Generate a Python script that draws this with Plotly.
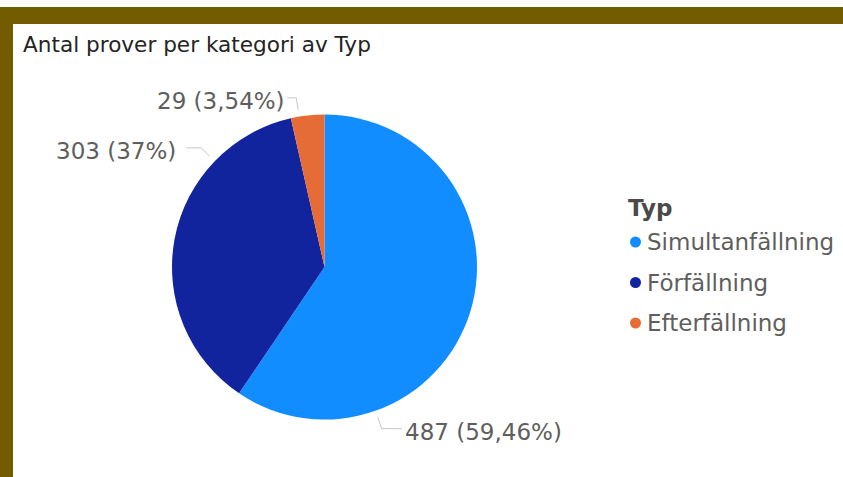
import math
import plotly.graph_objects as go

# ---- data ----
categories = ["Simultanfällning", "Förfällning", "Efterfällning"]
values = [487, 303, 29]
label_texts = ["487 (59,46%)", "303 (37%)", "29 (3,54%)"]
colors = ["#118DFF", "#12239E", "#E66C37"]
title_text = "Antal prover per kategori av Typ"
legend_title = "Typ"

# ---- layout constants (pixels) ----
W, H = 843, 477
CX, CY, R = 324.5, 267.0, 152.5
label_angles = [160.5, 314.0, 350.5]   # degrees clockwise from 12 o'clock
leader_h = [20, 15, 9]                 # horizontal leader lengths
label_gap = [1, 8, 0]                  # gap between leader and text
FONT = "DejaVu Sans"
OLIVE = "#735c00"
LINE = "#c8c6c4"
TXT = "#605E5C"


def px(x):
    return x / W


def py(y):
    return 1 - y / H


fig = go.Figure(go.Pie(
    labels=categories,
    values=values,
    marker=dict(colors=colors, line=dict(width=0)),
    sort=False,
    direction="clockwise",
    rotation=0,
    textinfo="none",
    showlegend=False,
    domain=dict(x=[px(CX - R), px(CX + R)], y=[py(CY + R), py(CY - R)]),
))

shapes = [
    dict(type="rect", xref="paper", yref="paper", x0=0, x1=1, y0=py(24), y1=py(7),
         fillcolor=OLIVE, line=dict(width=0), layer="below"),
    dict(type="rect", xref="paper", yref="paper", x0=0, x1=px(13), y0=0, y1=py(7),
         fillcolor=OLIVE, line=dict(width=0), layer="below"),
]
annotations = [
    dict(text=title_text, x=px(21), y=py(44), xref="paper", yref="paper",
         xanchor="left", yanchor="middle", showarrow=False,
         font=dict(family=FONT, size=21.6, color="#252423")),
]

# leader lines + data labels
for ang, txt, hl, gap in zip(label_angles, label_texts, leader_h, label_gap):
    a = math.radians(ang)
    s, c = math.sin(a), -math.cos(a)
    x0, y0 = CX + (R + 7) * s, CY + (R + 7) * c
    x1, y1 = CX + (R + 19) * s, CY + (R + 19) * c
    right = s > 0
    x2 = x1 + (hl if right else -hl)
    path = f"M {px(x0)} {py(y0)} L {px(x1)} {py(y1)} L {px(x2)} {py(y1)}"
    shapes.append(dict(type="path", xref="paper", yref="paper", path=path,
                       line=dict(color=LINE, width=1)))
    annotations.append(dict(
        text=txt, x=px(x2 + (gap if right else -gap)), y=py(y1 + 3),
        xref="paper", yref="paper", showarrow=False,
        xanchor="left" if right else "right", yanchor="middle",
        font=dict(family=FONT, size=23, color=TXT)))

# manual legend
annotations.append(dict(text=f"<b>{legend_title}</b>", x=px(626), y=py(208),
                        xref="paper", yref="paper", showarrow=False,
                        xanchor="left", yanchor="middle",
                        font=dict(family=FONT, size=23, color="#4a4a4a")))
for i, (cat, col) in enumerate(zip(categories, colors)):
    yy = 242 + i * 40.5
    shapes.append(dict(type="circle", xref="paper", yref="paper",
                       x0=px(630), x1=px(641), y0=py(yy + 5.5), y1=py(yy - 5.5),
                       fillcolor=col, line=dict(width=0)))
    annotations.append(dict(text=cat, x=px(645), y=py(yy),
                            xref="paper", yref="paper", showarrow=False,
                            xanchor="left", yanchor="middle",
                            font=dict(family=FONT, size=23, color=TXT)))

fig.update_layout(
    width=W, height=H,
    margin=dict(l=0, r=0, t=0, b=0),
    paper_bgcolor="white", plot_bgcolor="white",
    shapes=shapes, annotations=annotations,
    showlegend=False,
)

fig.write_html("out.html")
